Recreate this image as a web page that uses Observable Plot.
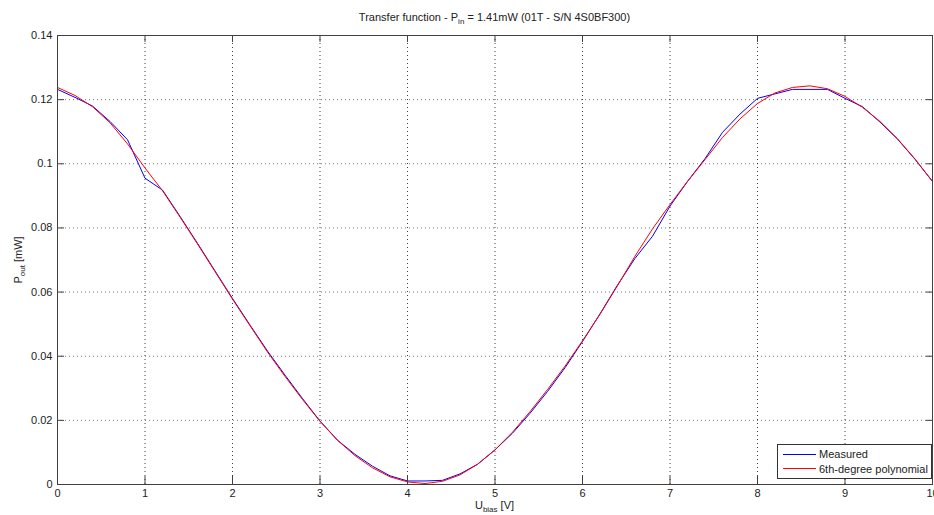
<!DOCTYPE html>
<html><head><meta charset="utf-8">
<script src="https://cdn.jsdelivr.net/npm/d3@7"></script>
<script src="https://cdn.jsdelivr.net/npm/@observablehq/plot@0.6"></script>
<style>
body{margin:0;background:#fff;font-family:"Liberation Sans",Arial,sans-serif;}
#wrap{position:relative;width:934px;height:515px;overflow:hidden;background:#fff}
.ov{position:absolute;font-size:11px;color:#222;white-space:nowrap;line-height:1}
.ov sub{font-size:8px;vertical-align:-3px;line-height:0}
#legend{position:absolute;left:777px;top:444px;width:153px;height:33px;border:1px solid #333;background:#fff}
.lrow{position:absolute;left:5px;height:12px;font-size:11px;color:#222;line-height:12px}
.lrow span.sw{display:inline-block;width:33px;height:0;border-top:1px solid;vertical-align:middle;margin-right:3px;position:relative;top:-1px}
</style></head><body>
<div id="wrap">
  <div class="ov" id="title" style="left:0;width:989px;text-align:center;top:12px">Transfer function - P<sub>in</sub> = 1.41mW (01T - S/N 4S0BF300)</div>
  <div class="ov" id="ylab" style="left:18px;top:260px;transform:translate(-50%,-50%) rotate(-90deg)">P<sub>out</sub> [mW]</div>
  <div class="ov" id="xlab" style="left:0;width:989px;text-align:center;top:500px">U<sub>bias</sub> [V]</div>
</div>
<script>
const ubias = [0,0.2,0.4,0.6,0.8,1,1.2,1.4,1.6,1.8,2,2.2,2.4,2.6,2.8,3,3.2,3.4,3.6,3.8,4,4.2,4.4,4.6,4.8,5,5.2,5.4,5.6,5.8,6,6.2,6.4,6.6,6.8,7,7.2,7.4,7.6,7.8,8,8.2,8.4,8.6,8.8,9,9.2,9.4,9.6,9.8,10];
const measured = [0.1232,0.1207,0.1180,0.1132,0.1075,0.0955,0.0918,0.0836,0.0752,0.0666,0.0580,0.0497,0.0416,0.0341,0.0268,0.0198,0.0138,0.0094,0.0057,0.0027,0.0011,0.0011,0.0013,0.0033,0.0063,0.0108,0.0160,0.0222,0.0290,0.0364,0.0446,0.0532,0.0622,0.0705,0.0774,0.0868,0.0945,0.1016,0.1098,0.1155,0.1204,0.1218,0.1232,0.1232,0.1232,0.1204,0.1178,0.1130,0.1077,0.1014,0.0945];
const polyFit = [0.1238,0.1213,0.1178,0.1128,0.1062,0.0987,0.0916,0.0834,0.0750,0.0664,0.0578,0.0495,0.0413,0.0337,0.0265,0.0197,0.0138,0.0090,0.0052,0.0024,0.0008,0.0003,0.0010,0.0030,0.0063,0.0108,0.0163,0.0227,0.0296,0.0369,0.0448,0.0531,0.0620,0.0712,0.0797,0.0873,0.0945,0.1013,0.1082,0.1140,0.1188,0.1221,0.1238,0.1243,0.1234,0.1210,0.1176,0.1132,0.1078,0.1015,0.0945];
const xTicks = [0,1,2,3,4,5,6,7,8,9,10];
const yTicks = [0,0.02,0.04,0.06,0.08,0.1,0.12,0.14];
const yTickLabels = ["0","0.02","0.04","0.06","0.08","0.1","0.12","0.14"];
const seriesNames = ["Measured","6th-degree polynomial"];
const seriesColors = ["#0000ff","#ff0000"];

const measData = ubias.map((u,i)=>({u, p: measured[i]}));
const polyData = ubias.map((u,i)=>({u, p: polyFit[i]}));

const axisCol = "#404040";
const chart = Plot.plot({
  width: 934, height: 515,
  marginLeft: 57, marginRight: 2, marginTop: 35, marginBottom: 31,
  style: {fontFamily: '"Liberation Sans", Arial, sans-serif', fontSize: "11px", color: "#222", background: "#fff"},
  x: {domain: [0,10], ticks: xTicks},
  y: {domain: [0,0.14], ticks: yTicks},
  marks: [
    Plot.gridX(xTicks, {stroke: "#000", strokeOpacity: 0.75, strokeDasharray: "1,3"}),
    Plot.gridY(yTicks, {stroke: "#000", strokeOpacity: 0.55, strokeDasharray: "1,3"}),
    Plot.line(measData, {x: "u", y: "p", stroke: seriesColors[0], strokeWidth: 1}),
    Plot.line(polyData, {x: "u", y: "p", stroke: seriesColors[1], strokeWidth: 1}),
    Plot.frame({stroke: axisCol}),
    Plot.axisX(xTicks, {anchor: "bottom", tickSize: 0, tickPadding: 5, label: null, fill: "#222"}),
    Plot.axisY(yTicks, {anchor: "left", tickSize: 0, tickPadding: 5, label: null, fill: "#222", tickFormat: (d,i)=>yTickLabels[i]}),
    Plot.axisX(xTicks, {anchor: "bottom", tickSize: -8, label: null, fill: "none", stroke: axisCol}),
    Plot.axisX(xTicks, {anchor: "top", tickSize: -6, label: null, fill: "none", stroke: axisCol}),
    Plot.axisY(yTicks, {anchor: "left", tickSize: -7, label: null, fill: "none", stroke: axisCol}),
    Plot.axisY(yTicks, {anchor: "right", tickSize: -7, label: null, fill: "none", stroke: axisCol})
  ]
});
const wrap = document.getElementById("wrap");
chart.style.position = "absolute";
chart.style.left = "0"; chart.style.top = "0";
wrap.insertBefore(chart, wrap.firstChild);

const legend = document.createElement("div");
legend.id = "legend";
seriesNames.forEach((name,i)=>{
  const row = document.createElement("div");
  row.className = "lrow";
  row.style.top = (3 + i*14.5) + "px";
  const sw = document.createElement("span");
  sw.className = "sw";
  sw.style.borderColor = seriesColors[i];
  row.appendChild(sw);
  row.appendChild(document.createTextNode(name));
  legend.appendChild(row);
});
wrap.appendChild(legend);
</script>
</body></html>
